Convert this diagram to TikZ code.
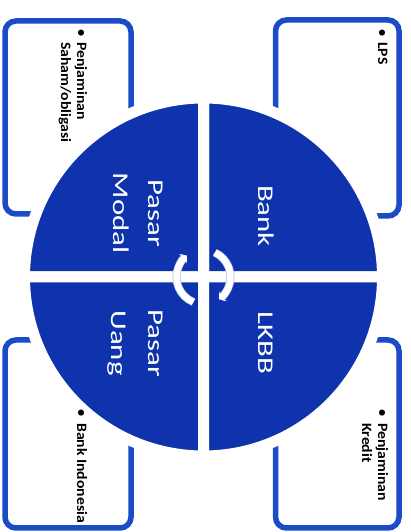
\documentclass[tikz,border=0pt]{standalone}
\usepackage{fontspec}
\setmainfont{Carlito}
\usetikzlibrary{arrows.meta}
\definecolor{circblue}{HTML}{0F33AC}
\definecolor{boxblue}{HTML}{1C4BC8}
\definecolor{arcedge}{HTML}{B8C4E4}
\newcommand\wlab[1]{\scalebox{1.37}[1]{#1}}
\newcommand\wbox[1]{\scalebox{1.1}[1]{#1}}
\tikzset{
  infobox/.style={draw=boxblue, line width=5.5pt, rounded corners=11pt, fill=white,
    inner sep=0pt, outer sep=0pt},
  quad/.style={fill=circblue, draw=white, line width=11pt},
  lab/.style={text=white, font=\fontsize{22.5}{27}\selectfont, rotate=-90,
    inner sep=0pt, anchor=base},
  btxt/.style={text=black, font=\bfseries\fontsize{14.3}{16}\selectfont, rotate=-90,
    inner sep=0pt, anchor=base west},
  bul/.style={text=black, font=\bfseries\fontsize{14.3}{16}\selectfont, rotate=-90,
    inner sep=0pt, anchor=base},
  cycedge/.style={draw=arcedge, line width=8pt, -{Triangle[width=12pt,length=5pt]}},
  cyc/.style={draw=white, line width=6.5pt, -{Triangle[width=10pt,length=4pt]}}
}
\begin{document}
\begin{tikzpicture}[x=1pt,y=1pt]
\useasboundingbox[fill=white] (0,0) rectangle (410,532);
% boxes
\node[infobox, minimum width=126pt, minimum height=193pt] (tl) at (68,414.5) {};
\node[infobox, minimum width=123.5pt, minimum height=196pt] (tr) at (337.25,414) {};
\node[infobox, minimum width=126pt, minimum height=188pt] (bl) at (68,98) {};
\node[infobox, minimum width=123.5pt, minimum height=188pt] (br) at (337.25,98) {};
% circle quadrants
\coordinate (C) at (203.5,255);
\path[quad] (C) -- ++(0:179) arc[start angle=0, end angle=90, radius=179] -- cycle;
\path[quad] (C) -- ++(90:179) arc[start angle=90, end angle=180, radius=179] -- cycle;
\path[quad] (C) -- ++(180:179) arc[start angle=180, end angle=270, radius=179] -- cycle;
\path[quad] (C) -- ++(270:179) arc[start angle=270, end angle=360, radius=179] -- cycle;
% cycle arrows
\coordinate (la) at ([shift={(248:27)}]C);
\coordinate (ra) at ([shift={(65:27)}]C);
\draw[cycedge] (la) arc[start angle=248, end angle=128, radius=27];
\draw[cycedge] (ra) arc[start angle=65, end angle=-55, radius=27];
\draw[cyc] (la) arc[start angle=248, end angle=128, radius=27];
\draw[cyc] (ra) arc[start angle=65, end angle=-55, radius=27];
% quadrant labels
\node[lab] (pm1) at (148,319) {\wlab{Pasar}};
\node[lab] (pm2) at (113,319) {\wlab{Modal}};
\node[lab] (bank) at (258,316) {\wlab{Bank}};
\node[lab] (lkbb) at (258,189) {\wlab{LKBB}};
\node[lab] (pu1) at (148,189) {\wlab{Pasar}};
\node[lab] (pu2) at (111,189) {\wlab{Uang}};
% box texts
\node[bul] (tlb) at (77,499) {\textbullet};
\node[btxt] (tl1) at (77,490) {\wbox{Penjaminan}};
\node[btxt] (tl2) at (61,490) {\wbox{Saham/obligasi}};
\node[bul] (trb) at (378,499) {\textbullet};
\node[btxt] (tr1) at (378,490) {\wbox{LPS}};
\node[bul] (brb) at (378,119) {\textbullet};
\node[btxt] (br1) at (378,109) {\wbox{Penjaminan}};
\node[btxt] (br2) at (362,109) {\wbox{Kredit}};
\node[bul] (blb) at (77,119) {\textbullet};
\node[btxt] (bl1) at (77,109) {\wbox{Bank Indonesia}};
\end{tikzpicture}
\end{document}
